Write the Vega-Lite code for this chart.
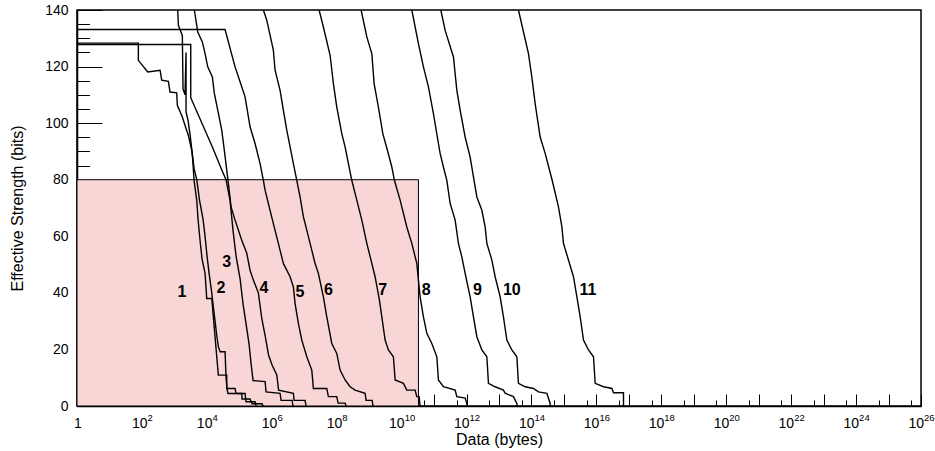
{
  "$schema": "https://vega.github.io/schema/vega-lite/v6.json",
  "width": 844,
  "height": 396,
  "autosize": {"type": "none"},
  "padding": {"left": 77, "top": 10, "right": 14, "bottom": 45},
  "background": "white",
  "config": {
    "view": {"stroke": "black", "strokeWidth": 1.5},
    "font": "Liberation Sans",
    "axis": {
      "labelFont": "Liberation Sans",
      "titleFont": "Liberation Sans",
      "labelColor": "black",
      "titleColor": "black",
      "tickColor": "black",
      "domainColor": "black",
      "grid": false,
      "zindex": 1,
      "titleFontWeight": "normal"
    }
  },
  "datasets": {
    "box": [{"x0": 1, "x1": 3.3e10, "y0": 0, "y1": 80}],
    "labels": [
      {"t": "1", "x": 1722, "y": 40.4},
      {"t": "2", "x": 27400, "y": 41.6},
      {"t": "3", "x": 41020, "y": 51},
      {"t": "4", "x": 579400, "y": 41.6},
      {"t": "5", "x": 7447000, "y": 40.4},
      {"t": "6", "x": 55460000, "y": 41},
      {"t": "7", "x": 2636000000, "y": 41},
      {"t": "8", "x": 56890000000, "y": 41},
      {"t": "9", "x": 2168000000000, "y": 41},
      {"t": "10", "x": 24890000000000, "y": 41},
      {"t": "11", "x": 5470000000000000, "y": 41}
    ],
    "curves": [
      {"c": 1, "i": 0, "x": 1, "y": 128.3},
      {"c": 1, "i": 1, "x": 77.6, "y": 128.3},
      {"c": 1, "i": 2, "x": 77.6, "y": 122.2},
      {"c": 1, "i": 3, "x": 151, "y": 118.1},
      {"c": 1, "i": 4, "x": 363, "y": 118.7},
      {"c": 1, "i": 5, "x": 407, "y": 115.2},
      {"c": 1, "i": 6, "x": 652, "y": 114.8},
      {"c": 1, "i": 7, "x": 735, "y": 111},
      {"c": 1, "i": 8, "x": 1180, "y": 110.7},
      {"c": 1, "i": 9, "x": 1233, "y": 106.3},
      {"c": 1, "i": 10, "x": 1758, "y": 102.2},
      {"c": 1, "i": 11, "x": 2286, "y": 98.1},
      {"c": 1, "i": 12, "x": 2692, "y": 95.7},
      {"c": 1, "i": 13, "x": 3428, "y": 90.4},
      {"c": 1, "i": 14, "x": 3681, "y": 86.9},
      {"c": 1, "i": 15, "x": 4036, "y": 79.8},
      {"c": 1, "i": 16, "x": 4887, "y": 72.7},
      {"c": 1, "i": 17, "x": 5358, "y": 66},
      {"c": 1, "i": 18, "x": 6166, "y": 58.6},
      {"c": 1, "i": 19, "x": 7112, "y": 52},
      {"c": 1, "i": 20, "x": 8810, "y": 46.9},
      {"c": 1, "i": 21, "x": 9930, "y": 38},
      {"c": 1, "i": 22, "x": 14160, "y": 38},
      {"c": 1, "i": 23, "x": 15850, "y": 31.5},
      {"c": 1, "i": 24, "x": 17900, "y": 24.5},
      {"c": 1, "i": 25, "x": 20180, "y": 17.4},
      {"c": 1, "i": 26, "x": 22600, "y": 10.9},
      {"c": 1, "i": 27, "x": 41020, "y": 10.9},
      {"c": 1, "i": 28, "x": 41020, "y": 6.2},
      {"c": 1, "i": 29, "x": 73960, "y": 6.2},
      {"c": 1, "i": 30, "x": 79430, "y": 4.4},
      {"c": 1, "i": 31, "x": 150300, "y": 4.4},
      {"c": 1, "i": 32, "x": 161400, "y": 1.5},
      {"c": 1, "i": 33, "x": 305500, "y": 1.5},
      {"c": 1, "i": 34, "x": 328100, "y": 0},

      {"c": 2, "i": 0, "x": 1268, "y": 140},
      {"c": 2, "i": 1, "x": 1324, "y": 134.6},
      {"c": 2, "i": 2, "x": 1758, "y": 131},
      {"c": 2, "i": 3, "x": 1849, "y": 112},
      {"c": 2, "i": 4, "x": 2128, "y": 110},
      {"c": 2, "i": 5, "x": 2286, "y": 125},
      {"c": 2, "i": 6, "x": 2286, "y": 104},
      {"c": 2, "i": 7, "x": 2636, "y": 101},
      {"c": 2, "i": 8, "x": 3034, "y": 96},
      {"c": 2, "i": 9, "x": 3499, "y": 90},
      {"c": 2, "i": 10, "x": 4036, "y": 84},
      {"c": 2, "i": 11, "x": 4887, "y": 80},
      {"c": 2, "i": 12, "x": 5957, "y": 72.7},
      {"c": 2, "i": 13, "x": 7638, "y": 66},
      {"c": 2, "i": 14, "x": 8810, "y": 60},
      {"c": 2, "i": 15, "x": 10140, "y": 53},
      {"c": 2, "i": 16, "x": 11700, "y": 47},
      {"c": 2, "i": 17, "x": 14160, "y": 40},
      {"c": 2, "i": 18, "x": 15520, "y": 36},
      {"c": 2, "i": 19, "x": 17900, "y": 30},
      {"c": 2, "i": 20, "x": 20180, "y": 25},
      {"c": 2, "i": 21, "x": 22600, "y": 21},
      {"c": 2, "i": 22, "x": 25530, "y": 19.2},
      {"c": 2, "i": 23, "x": 36390, "y": 19.2},
      {"c": 2, "i": 24, "x": 39080, "y": 10},
      {"c": 2, "i": 25, "x": 41980, "y": 6},
      {"c": 2, "i": 26, "x": 44980, "y": 4.4},
      {"c": 2, "i": 27, "x": 119100, "y": 4.4},
      {"c": 2, "i": 28, "x": 121600, "y": 2.5},
      {"c": 2, "i": 29, "x": 214300, "y": 2.5},
      {"c": 2, "i": 30, "x": 247200, "y": 0.8},
      {"c": 2, "i": 31, "x": 502300, "y": 0.8},
      {"c": 2, "i": 32, "x": 539500, "y": 0},

      {"c": 3, "i": 0, "x": 1, "y": 127.8},
      {"c": 3, "i": 1, "x": 3190, "y": 127.8},
      {"c": 3, "i": 2, "x": 3190, "y": 109},
      {"c": 3, "i": 3, "x": 14790, "y": 91.6},
      {"c": 3, "i": 4, "x": 30000, "y": 83},
      {"c": 3, "i": 5, "x": 39000, "y": 80},
      {"c": 3, "i": 6, "x": 51880, "y": 72.7},
      {"c": 3, "i": 7, "x": 64170, "y": 62},
      {"c": 3, "i": 8, "x": 79430, "y": 53},
      {"c": 3, "i": 9, "x": 105500, "y": 45},
      {"c": 3, "i": 10, "x": 130600, "y": 36},
      {"c": 3, "i": 11, "x": 161400, "y": 29},
      {"c": 3, "i": 12, "x": 199500, "y": 22},
      {"c": 3, "i": 13, "x": 230100, "y": 15},
      {"c": 3, "i": 14, "x": 265500, "y": 9},
      {"c": 3, "i": 15, "x": 622300, "y": 8.6},
      {"c": 3, "i": 16, "x": 667000, "y": 5},
      {"c": 3, "i": 17, "x": 1803000, "y": 4.5},
      {"c": 3, "i": 18, "x": 1936000, "y": 2},
      {"c": 3, "i": 19, "x": 4227000, "y": 2},
      {"c": 3, "i": 20, "x": 4530000, "y": 0},

      {"c": 4, "i": 0, "x": 4121, "y": 140},
      {"c": 4, "i": 1, "x": 5248, "y": 132.2},
      {"c": 4, "i": 2, "x": 7261, "y": 128.7},
      {"c": 4, "i": 3, "x": 8810, "y": 124.6},
      {"c": 4, "i": 4, "x": 10660, "y": 119.9},
      {"c": 4, "i": 5, "x": 14790, "y": 116.3},
      {"c": 4, "i": 6, "x": 17020, "y": 110.5},
      {"c": 4, "i": 7, "x": 21680, "y": 104.6},
      {"c": 4, "i": 8, "x": 28770, "y": 97.5},
      {"c": 4, "i": 9, "x": 34590, "y": 90.4},
      {"c": 4, "i": 10, "x": 41020, "y": 83.4},
      {"c": 4, "i": 11, "x": 46030, "y": 78.7},
      {"c": 4, "i": 12, "x": 55720, "y": 70.4},
      {"c": 4, "i": 13, "x": 73960, "y": 65.7},
      {"c": 4, "i": 14, "x": 119100, "y": 58.6},
      {"c": 4, "i": 15, "x": 169800, "y": 54},
      {"c": 4, "i": 16, "x": 214300, "y": 48},
      {"c": 4, "i": 17, "x": 271000, "y": 44.5},
      {"c": 4, "i": 18, "x": 386400, "y": 40},
      {"c": 4, "i": 19, "x": 492000, "y": 31},
      {"c": 4, "i": 20, "x": 622300, "y": 25},
      {"c": 4, "i": 21, "x": 796200, "y": 18},
      {"c": 4, "i": 22, "x": 1021000, "y": 14.5},
      {"c": 4, "i": 23, "x": 1426000, "y": 11},
      {"c": 4, "i": 24, "x": 1622000, "y": 5.6},
      {"c": 4, "i": 25, "x": 4634000, "y": 4.5},
      {"c": 4, "i": 26, "x": 4864000, "y": 2},
      {"c": 4, "i": 27, "x": 10620000, "y": 2},
      {"c": 4, "i": 28, "x": 11400000, "y": 0},

      {"c": 5, "i": 0, "x": 1, "y": 133.1},
      {"c": 5, "i": 1, "x": 36390, "y": 133.1},
      {"c": 5, "i": 2, "x": 73960, "y": 119.9},
      {"c": 5, "i": 3, "x": 105500, "y": 114.6},
      {"c": 5, "i": 4, "x": 150300, "y": 109.3},
      {"c": 5, "i": 5, "x": 214300, "y": 98.7},
      {"c": 5, "i": 6, "x": 305500, "y": 92.8},
      {"c": 5, "i": 7, "x": 436500, "y": 85.7},
      {"c": 5, "i": 8, "x": 550800, "y": 79.8},
      {"c": 5, "i": 9, "x": 622300, "y": 76.3},
      {"c": 5, "i": 10, "x": 785200, "y": 71.6},
      {"c": 5, "i": 11, "x": 1119000, "y": 64.5},
      {"c": 5, "i": 12, "x": 1596000, "y": 57.5},
      {"c": 5, "i": 13, "x": 2275000, "y": 50.4},
      {"c": 5, "i": 14, "x": 3664000, "y": 45.7},
      {"c": 5, "i": 15, "x": 4634000, "y": 42.1},
      {"c": 5, "i": 16, "x": 5224000, "y": 36.2},
      {"c": 5, "i": 17, "x": 6607000, "y": 29.2},
      {"c": 5, "i": 18, "x": 8414000, "y": 23.3},
      {"c": 5, "i": 19, "x": 11990000, "y": 17.4},
      {"c": 5, "i": 20, "x": 17100000, "y": 12.7},
      {"c": 5, "i": 21, "x": 19140000, "y": 6.2},
      {"c": 5, "i": 22, "x": 49550000, "y": 6.2},
      {"c": 5, "i": 23, "x": 55460000, "y": 3.3},
      {"c": 5, "i": 24, "x": 100700000, "y": 3.3},
      {"c": 5, "i": 25, "x": 110400000, "y": 1},
      {"c": 5, "i": 26, "x": 181500000, "y": 1},
      {"c": 5, "i": 27, "x": 195000000, "y": 0},

      {"c": 6, "i": 0, "x": 550800, "y": 140},
      {"c": 6, "i": 1, "x": 701500, "y": 136.4},
      {"c": 6, "i": 2, "x": 1119000, "y": 125.8},
      {"c": 6, "i": 3, "x": 1265000, "y": 118.7},
      {"c": 6, "i": 4, "x": 1803000, "y": 111.6},
      {"c": 6, "i": 5, "x": 2275000, "y": 104.6},
      {"c": 6, "i": 6, "x": 2897000, "y": 97.5},
      {"c": 6, "i": 7, "x": 3664000, "y": 91.6},
      {"c": 6, "i": 8, "x": 4634000, "y": 85.7},
      {"c": 6, "i": 9, "x": 5888000, "y": 79.8},
      {"c": 6, "i": 10, "x": 7447000, "y": 73.9},
      {"c": 6, "i": 11, "x": 9419000, "y": 66.9},
      {"c": 6, "i": 12, "x": 11990000, "y": 62.2},
      {"c": 6, "i": 13, "x": 15140000, "y": 57.5},
      {"c": 6, "i": 14, "x": 21580000, "y": 50.4},
      {"c": 6, "i": 15, "x": 27290000, "y": 46.9},
      {"c": 6, "i": 16, "x": 38900000, "y": 38.6},
      {"c": 6, "i": 17, "x": 49550000, "y": 31.5},
      {"c": 6, "i": 18, "x": 70630000, "y": 22.1},
      {"c": 6, "i": 19, "x": 100700000, "y": 18.6},
      {"c": 6, "i": 20, "x": 127400000, "y": 12.7},
      {"c": 6, "i": 21, "x": 181500000, "y": 9.2},
      {"c": 6, "i": 22, "x": 258800000, "y": 6.8},
      {"c": 6, "i": 23, "x": 369000000, "y": 5.6},
      {"c": 6, "i": 24, "x": 749900000, "y": 4.5},
      {"c": 6, "i": 25, "x": 805400000, "y": 2},
      {"c": 6, "i": 26, "x": 1233000000, "y": 2},
      {"c": 6, "i": 27, "x": 1324000000, "y": 0},

      {"c": 7, "i": 0, "x": 28710000, "y": 140},
      {"c": 7, "i": 1, "x": 38900000, "y": 134},
      {"c": 7, "i": 2, "x": 62660000, "y": 124},
      {"c": 7, "i": 3, "x": 79070000, "y": 114},
      {"c": 7, "i": 4, "x": 100700000, "y": 105.7},
      {"c": 7, "i": 5, "x": 143600000, "y": 96.3},
      {"c": 7, "i": 6, "x": 181500000, "y": 91.6},
      {"c": 7, "i": 7, "x": 229600000, "y": 85.7},
      {"c": 7, "i": 8, "x": 291700000, "y": 79.8},
      {"c": 7, "i": 9, "x": 415900000, "y": 72.8},
      {"c": 7, "i": 10, "x": 594300000, "y": 65.7},
      {"c": 7, "i": 11, "x": 847200000, "y": 57.5},
      {"c": 7, "i": 12, "x": 1208000000, "y": 50.4},
      {"c": 7, "i": 13, "x": 1524000000, "y": 45.7},
      {"c": 7, "i": 14, "x": 2070000000, "y": 37.4},
      {"c": 7, "i": 15, "x": 2455000000, "y": 31.5},
      {"c": 7, "i": 16, "x": 3105000000, "y": 23.3},
      {"c": 7, "i": 17, "x": 3917000000, "y": 19.8},
      {"c": 7, "i": 18, "x": 5585000000, "y": 17.4},
      {"c": 7, "i": 19, "x": 6310000000, "y": 9.2},
      {"c": 7, "i": 20, "x": 11380000000, "y": 8},
      {"c": 7, "i": 21, "x": 14450000000, "y": 5.6},
      {"c": 7, "i": 22, "x": 26060000000, "y": 5.6},
      {"c": 7, "i": 23, "x": 29380000000, "y": 3.3},
      {"c": 7, "i": 24, "x": 34590000000, "y": 3.3},
      {"c": 7, "i": 25, "x": 37150000000, "y": 0},

      {"c": 8, "i": 0, "x": 564900000, "y": 140},
      {"c": 8, "i": 1, "x": 847200000, "y": 130.5},
      {"c": 8, "i": 2, "x": 1208000000, "y": 124.6},
      {"c": 8, "i": 3, "x": 1422000000, "y": 114},
      {"c": 8, "i": 4, "x": 1928000000, "y": 105.7},
      {"c": 8, "i": 5, "x": 2636000000, "y": 96.3},
      {"c": 8, "i": 6, "x": 3648000000, "y": 90.4},
      {"c": 8, "i": 7, "x": 4989000000, "y": 84.5},
      {"c": 8, "i": 8, "x": 5998000000, "y": 79.8},
      {"c": 8, "i": 9, "x": 8995000000, "y": 72.8},
      {"c": 8, "i": 10, "x": 14450000000, "y": 63.3},
      {"c": 8, "i": 11, "x": 20610000000, "y": 57.5},
      {"c": 8, "i": 12, "x": 29380000000, "y": 50.4},
      {"c": 8, "i": 13, "x": 37150000000, "y": 38.6},
      {"c": 8, "i": 14, "x": 46990000000, "y": 31.5},
      {"c": 8, "i": 15, "x": 59840000000, "y": 25.7},
      {"c": 8, "i": 16, "x": 85310000000, "y": 22.1},
      {"c": 8, "i": 17, "x": 121600000000, "y": 17.4},
      {"c": 8, "i": 18, "x": 136200000000, "y": 9.2},
      {"c": 8, "i": 19, "x": 194100000000, "y": 6.8},
      {"c": 8, "i": 20, "x": 445700000000, "y": 5.6},
      {"c": 8, "i": 21, "x": 502300000000, "y": 3.3},
      {"c": 8, "i": 22, "x": 905700000000, "y": 2.8},
      {"c": 8, "i": 23, "x": 1021000000000, "y": 0.9},
      {"c": 8, "i": 24, "x": 1040000000000, "y": 0},

      {"c": 9, "i": 0, "x": 20610000000, "y": 140},
      {"c": 9, "i": 1, "x": 32960000000, "y": 128.1},
      {"c": 9, "i": 2, "x": 46990000000, "y": 119.9},
      {"c": 9, "i": 3, "x": 66990000000, "y": 112.8},
      {"c": 9, "i": 4, "x": 95500000000, "y": 103.4},
      {"c": 9, "i": 5, "x": 136200000000, "y": 92.8},
      {"c": 9, "i": 6, "x": 153500000000, "y": 89.3},
      {"c": 9, "i": 7, "x": 194100000000, "y": 84.5},
      {"c": 9, "i": 8, "x": 247200000000, "y": 79.8},
      {"c": 9, "i": 9, "x": 312600000000, "y": 71.6},
      {"c": 9, "i": 10, "x": 445700000000, "y": 65.7},
      {"c": 9, "i": 11, "x": 562300000000, "y": 57.5},
      {"c": 9, "i": 12, "x": 716100000000, "y": 52.7},
      {"c": 9, "i": 13, "x": 905700000000, "y": 46.9},
      {"c": 9, "i": 14, "x": 1291000000000, "y": 38.6},
      {"c": 9, "i": 15, "x": 1633000000000, "y": 31.5},
      {"c": 9, "i": 16, "x": 2080000000000, "y": 24.5},
      {"c": 9, "i": 17, "x": 2965000000000, "y": 19.8},
      {"c": 9, "i": 18, "x": 4227000000000, "y": 17.4},
      {"c": 9, "i": 19, "x": 4732000000000, "y": 8},
      {"c": 9, "i": 20, "x": 7603000000000, "y": 6.8},
      {"c": 9, "i": 21, "x": 13710000000000, "y": 5.6},
      {"c": 9, "i": 22, "x": 15490000000000, "y": 4.5},
      {"c": 9, "i": 23, "x": 27860000000000, "y": 3.3},
      {"c": 9, "i": 24, "x": 35480000000000, "y": 0.9},
      {"c": 9, "i": 25, "x": 36000000000000, "y": 0},

      {"c": 10, "i": 0, "x": 161400000000, "y": 140},
      {"c": 10, "i": 1, "x": 219300000000, "y": 132.8},
      {"c": 10, "i": 2, "x": 395400000000, "y": 123.4},
      {"c": 10, "i": 3, "x": 502300000000, "y": 111.6},
      {"c": 10, "i": 4, "x": 635300000000, "y": 104.6},
      {"c": 10, "i": 5, "x": 905700000000, "y": 95.1},
      {"c": 10, "i": 6, "x": 1291000000000, "y": 88},
      {"c": 10, "i": 7, "x": 1633000000000, "y": 81},
      {"c": 10, "i": 8, "x": 2080000000000, "y": 73.9},
      {"c": 10, "i": 9, "x": 2965000000000, "y": 69.2},
      {"c": 10, "i": 10, "x": 3741000000000, "y": 63.3},
      {"c": 10, "i": 11, "x": 4227000000000, "y": 57.5},
      {"c": 10, "i": 12, "x": 6026000000000, "y": 51.6},
      {"c": 10, "i": 13, "x": 7603000000000, "y": 45.7},
      {"c": 10, "i": 14, "x": 10860000000000, "y": 38.6},
      {"c": 10, "i": 15, "x": 13710000000000, "y": 31.5},
      {"c": 10, "i": 16, "x": 17460000000000, "y": 23.3},
      {"c": 10, "i": 17, "x": 24890000000000, "y": 19.8},
      {"c": 10, "i": 18, "x": 35480000000000, "y": 17.4},
      {"c": 10, "i": 19, "x": 39720000000000, "y": 8},
      {"c": 10, "i": 20, "x": 63970000000000, "y": 6.8},
      {"c": 10, "i": 21, "x": 115300000000000, "y": 6.2},
      {"c": 10, "i": 22, "x": 164400000000000, "y": 5},
      {"c": 10, "i": 23, "x": 298500000000000, "y": 4.5},
      {"c": 10, "i": 24, "x": 376700000000000, "y": 0.9},
      {"c": 10, "i": 25, "x": 380000000000000, "y": 0},

      {"c": 11, "i": 0, "x": 39720000000000, "y": 140},
      {"c": 11, "i": 1, "x": 80910000000000, "y": 124.6},
      {"c": 11, "i": 2, "x": 102800000000000, "y": 116.3},
      {"c": 11, "i": 3, "x": 130000000000000, "y": 106.9},
      {"c": 11, "i": 4, "x": 185400000000000, "y": 95.1},
      {"c": 11, "i": 5, "x": 264200000000000, "y": 89.3},
      {"c": 11, "i": 6, "x": 434500000000000, "y": 79.8},
      {"c": 11, "i": 7, "x": 679200000000000, "y": 70.4},
      {"c": 11, "i": 8, "x": 865000000000000, "y": 63.3},
      {"c": 11, "i": 9, "x": 968300000000000, "y": 57.5},
      {"c": 11, "i": 10, "x": 1380000000000000, "y": 51.6},
      {"c": 11, "i": 11, "x": 1968000000000000, "y": 45.7},
      {"c": 11, "i": 12, "x": 2506000000000000, "y": 38.6},
      {"c": 11, "i": 13, "x": 3170000000000000, "y": 31.5},
      {"c": 11, "i": 14, "x": 4009000000000000, "y": 23.3},
      {"c": 11, "i": 15, "x": 5715000000000000, "y": 19.8},
      {"c": 11, "i": 16, "x": 8147000000000000, "y": 17.4},
      {"c": 11, "i": 17, "x": 9183000000000000, "y": 8},
      {"c": 11, "i": 18, "x": 16560000000000000, "y": 6.8},
      {"c": 11, "i": 19, "x": 30060000000000000, "y": 6.2},
      {"c": 11, "i": 20, "x": 33650000000000000, "y": 4.7},
      {"c": 11, "i": 21, "x": 68390000000000000, "y": 4.7},
      {"c": 11, "i": 22, "x": 68400000000000000, "y": 0}
    ]
  },
  "resolve": {"axis": {"x": "independent", "y": "independent"}},
  "layer": [
    {
      "data": {"name": "box"},
      "mark": {"type": "rect", "fill": "#f9d6d6", "stroke": "black", "strokeWidth": 1},
      "encoding": {
        "x": {
          "field": "x0", "type": "quantitative",
          "scale": {"type": "log", "domain": [1, 1e26], "nice": false},
          "axis": {
            "orient": "bottom",
            "values": [1, 1e1, 1e2, 1e3, 1e4, 1e5, 1e6, 1e7, 1e8, 1e9, 1e10, 1e11, 1e12, 1e13, 1e14, 1e15, 1e16, 1e17, 1e18, 1e19, 1e20, 1e21, 1e22, 1e23, 1e24, 1e25, 1e26],
            "labelExpr": "datum.value < 2 ? '1' : (round(log(datum.value)/LN10) % 2 == 0 ? '10' : '')",
            "labelOffset": {"condition": [{"test": "datum.value < 2", "value": 0.5}, {"test": "datum.value >= 1e10", "value": -5.3}], "value": -2.7},
            "tickSize": -12,
            "tickWidth": 1,
            "labelPadding": 22,
            "labelFontSize": 14,
            "labelFlush": false,
            "labelOverlap": false,
            "labelBound": false,
            "domainWidth": 1.5,
            "title": "Data (bytes)",
            "titleFontSize": 16,
            "titlePadding": 1
          }
        },
        "x2": {"field": "x1"},
        "y": {
          "field": "y0", "type": "quantitative",
          "scale": {"domain": [0, 140], "nice": false},
          "axis": {
            "orient": "left",
            "values": [0, 20, 40, 60, 80, 100, 120, 140],
            "tickSize": -25,
            "tickWidth": 1,
            "labelPadding": 34,
            "labelFontSize": 14,
            "labelFlush": false,
            "labelOverlap": false,
            "domainWidth": 1.5,
            "title": "Effective Strength (bits)",
            "titleFontSize": 16,
            "titlePadding": 19
          }
        },
        "y2": {"field": "y1"}
      }
    },
    {
      "data": {"name": "curves"},
      "mark": {"type": "line", "color": "black", "strokeWidth": 1.4, "interpolate": "linear"},
      "encoding": {
        "x": {
          "field": "x", "type": "quantitative",
          "axis": {
            "orient": "bottom",
            "values": [5, 50, 500, 5e3, 5e4, 5e5, 5e6, 5e7, 5e8, 5e9, 5e10, 5e11, 5e12, 5e13, 5e14, 5e15, 5e16, 5e17, 5e18, 5e19, 5e20, 5e21, 5e22, 5e23, 5e24, 5e25],
            "tickSize": -6,
            "tickWidth": 1,
            "labels": false,
            "domain": false,
            "title": null
          }
        },
        "y": {
          "field": "y", "type": "quantitative",
          "axis": {
            "orient": "left",
            "values": [5, 10, 15, 25, 30, 35, 45, 50, 55, 65, 70, 75, 85, 90, 95, 105, 110, 115, 125, 130, 135],
            "tickSize": -12.5,
            "tickWidth": 1,
            "labels": false,
            "domain": false,
            "title": null
          }
        },
        "detail": {"field": "c", "type": "nominal"},
        "order": {"field": "i", "type": "quantitative"}
      }
    },
    {
      "data": {"name": "labels"},
      "mark": {"type": "text", "font": "Liberation Sans", "fontWeight": "bold", "fontSize": 16, "color": "black", "align": "center", "baseline": "middle"},
      "encoding": {
        "x": {
          "field": "x", "type": "quantitative",
          "axis": {
            "orient": "bottom",
            "values": [1e2, 1e4, 1e6, 1e8, 1e10, 1e12, 1e14, 1e16, 1e18, 1e20, 1e22, 1e24, 1e26],
            "labelExpr": "format(round(log(datum.value)/LN10), 'd')",
            "ticks": false,
            "domain": false,
            "labelPadding": 6,
            "labelOffset": 7.8,
            "labelFontSize": 9.5,
            "labelFlush": false,
            "labelOverlap": false,
            "labelBound": false,
            "title": null
          }
        },
        "y": {"field": "y", "type": "quantitative", "axis": null},
        "text": {"field": "t", "type": "nominal"}
      }
    }
  ]
}
